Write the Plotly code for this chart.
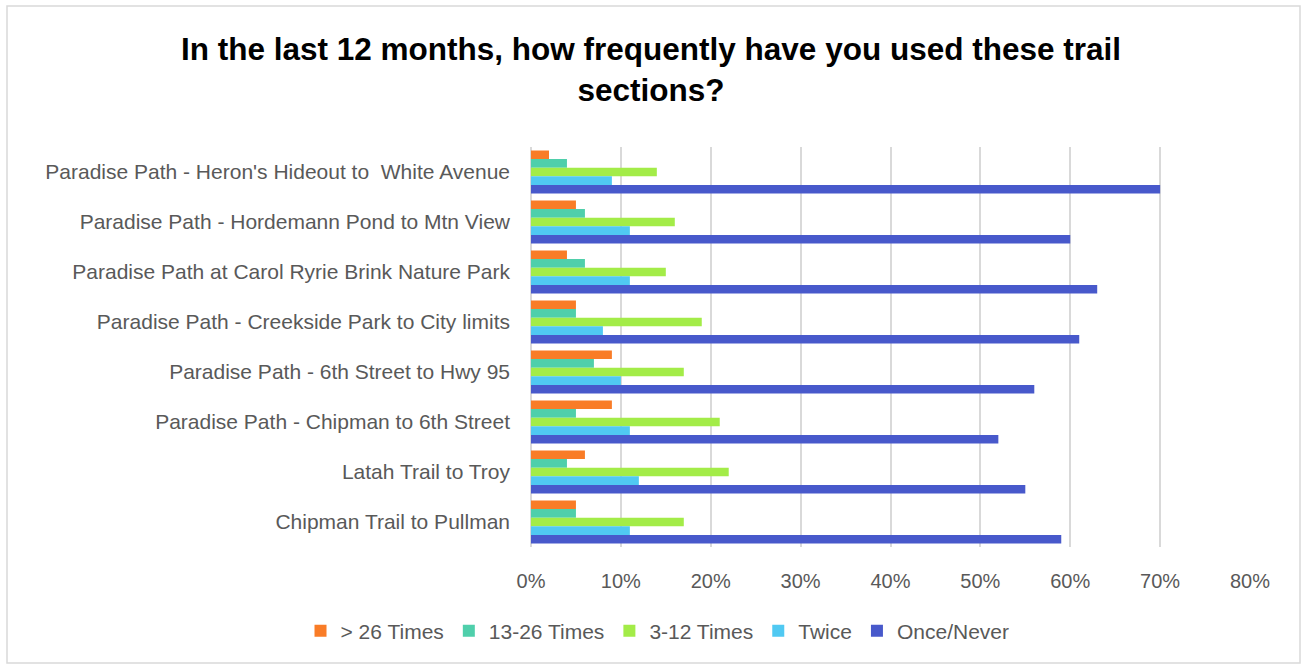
import plotly.graph_objects as go

# Trail sections, listed top to bottom
trails = [
    "Paradise Path - Heron's Hideout to  White Avenue",
    "Paradise Path - Hordemann Pond to Mtn View",
    "Paradise Path at Carol Ryrie Brink Nature Park",
    "Paradise Path - Creekside Park to City limits",
    "Paradise Path - 6th Street to Hwy 95",
    "Paradise Path - Chipman to 6th Street",
    "Latah Trail to Troy",
    "Chipman Trail to Pullman",
]

# Share of respondents (fractions) per usage frequency
over_26 = [0.02, 0.05, 0.04, 0.05, 0.09, 0.09, 0.06, 0.05]
times_13_26 = [0.04, 0.06, 0.06, 0.05, 0.07, 0.05, 0.04, 0.05]
times_3_12 = [0.14, 0.16, 0.15, 0.19, 0.17, 0.21, 0.22, 0.17]
twice = [0.09, 0.11, 0.11, 0.08, 0.10, 0.11, 0.12, 0.11]
once_never = [0.70, 0.60, 0.63, 0.61, 0.56, 0.52, 0.55, 0.59]

series_names = ["> 26 Times", "13-26 Times", "3-12 Times", "Twice", "Once/Never"]
series_values = [over_26, times_13_26, times_3_12, twice, once_never]
series_colors = ["#F97C27", "#4FCFAB", "#A3EC48", "#50C9F2", "#4859CB"]

tick_vals = [0, 0.1, 0.2, 0.3, 0.4, 0.5, 0.6, 0.7, 0.8]
tick_text = ["0%", "10%", "20%", "30%", "40%", "50%", "60%", "70%", "80%"]

fig = go.Figure()
for name, vals, color in zip(series_names, series_values, series_colors):
    fig.add_trace(go.Bar(
        y=trails, x=vals, name=name, orientation="h",
        marker=dict(color=color, line=dict(width=0)),
        hovertemplate="%{y}<br>" + name + ": %{x:.0%}<extra></extra>",
    ))

W, H = 1302, 664
L, R, T, B = 531, 52, 147, 117
pw, ph = W - L - R, H - T - B

FONT = "Liberation Sans, Arial, sans-serif"

fig.update_layout(
    width=W, height=H,
    barmode="group", bargap=0.14, bargroupgap=0,
    paper_bgcolor="white", plot_bgcolor="white",
    margin=dict(l=L, r=R, t=T, b=B, pad=0),
    font=dict(family=FONT, size=21, color="#595959"),
    title=dict(
        text="In the last 12 months, how frequently have you used these trail<br>sections?",
        x=0.5, xanchor="center", xref="container",
        y=1 - 60 / H, yanchor="top", yref="container",
        font=dict(family=FONT, size=31.5, color="#000000", weight="bold"),
    ),
    xaxis=dict(
        range=[0, 0.8], tickvals=tick_vals, ticktext=tick_text,
        showgrid=True, gridcolor="#D9D9D9", gridwidth=2,
        zeroline=True, zerolinecolor="#D9D9D9", zerolinewidth=2,
        showline=False, ticks="", ticklabelstandoff=20,
        tickfont=dict(size=20, color="#595959"),
        fixedrange=True,
    ),
    yaxis=dict(
        categoryorder="array", categoryarray=trails, autorange="reversed",
        showgrid=False, zeroline=False, showline=False, ticks="",
        ticklabelstandoff=20,
        tickfont=dict(size=21, color="#595959"),
        fixedrange=True,
    ),
    legend=dict(
        orientation="h", x=0.505, xanchor="center", xref="container",
        y=1 - 631 / H, yanchor="middle", yref="container",
        font=dict(size=21, color="#595959"),
        itemwidth=30, traceorder="normal",
    ),
    showlegend=True,
    shapes=[dict(
        type="rect", xref="paper", yref="paper",
        x0=(7 - L) / pw, x1=(W - 2 - L) / pw,
        y0=-(B - 1) / ph, y1=(H - B - 6) / ph,
        line=dict(color="#D9D9D9", width=1.5), fillcolor="rgba(0,0,0,0)", layer="below",
    )],
)

fig.write_html("out.html")
